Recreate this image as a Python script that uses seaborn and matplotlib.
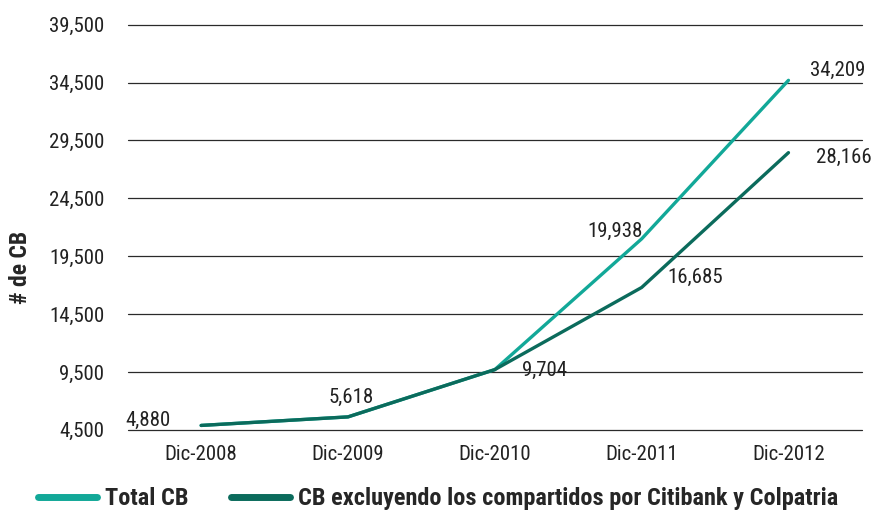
import matplotlib
matplotlib.use("Agg")
import matplotlib.pyplot as plt
import numpy as np
import pandas as pd
import seaborn as sns

# values
periods = ["Dic-2008", "Dic-2009", "Dic-2010", "Dic-2011", "Dic-2012"]
total_cb = [4880, 5618, 9704, 21000, 34700]
excl_cb = [4880, 5618, 9704, 16800, 28450]
series_names = ["Total CB", "CB excluyendo los compartidos por Citibank y Colpatria"]
yticks = [4500, 9500, 14500, 19500, 24500, 29500, 34500, 39500]

# printed labels (the chart prints these next to the points)
total_labels = ["4,880", "5,618", "9,704", "19,938", "34,209"]
excl_labels = ["", "", "", "16,685", "28,166"]

COLORS = ["#12a898", "#0b6b5c"]

df = pd.DataFrame({
    "periodo": periods * 2,
    "valor": total_cb + excl_cb,
    "serie": [series_names[0]] * len(periods) + [series_names[1]] * len(periods),
})

sns.set_theme(style="white")
FONT = ["Liberation Sans Narrow", "Roboto Condensed", "DejaVu Sans"]
plt.rcParams["font.family"] = FONT

fig, ax = plt.subplots(figsize=(8.75, 5.16), dpi=100)
fig.subplots_adjust(left=0.146, right=0.985, top=0.952, bottom=0.167)

sns.lineplot(data=df, x="periodo", y="valor", hue="serie", palette=COLORS,
             linewidth=2.4, ax=ax, sort=False, legend=True)

ax.set_xlim(-0.5, len(periods) - 0.5)
ax.set_ylim(yticks[0], yticks[-1])
ax.set_yticks(yticks)
ax.set_yticklabels([f"{v:,}" for v in yticks])
ax.yaxis.grid(True, color="#2a2a2a", linewidth=0.9)
for gl in ax.get_ygridlines():
    gl.set_clip_on(False)
ax.set_axisbelow(True)
for s in ax.spines.values():
    s.set_visible(False)
ax.tick_params(axis="both", length=0, labelsize=15, colors="#222222")
ax.tick_params(axis="y", pad=17)
ax.tick_params(axis="x", pad=11)
ax.set_xlabel("")
ax.set_ylabel("# de CB", fontsize=17, fontweight="bold")
ax.yaxis.set_label_coords(-0.130, 0.40)

# point labels, offsets in pixels
total_offsets = [(-53, 5), (3, 19), (50, -1), (-27, 7), (49, 10)]
excl_offsets = [(0, 0), (0, 0), (0, 0), (54, 10), (55, -5)]
for i, (lab, off) in enumerate(zip(total_labels, total_offsets)):
    if lab:
        ax.annotate(lab, (i, total_cb[i]), xytext=off, textcoords="offset pixels",
                    ha="center", va="center", fontsize=15, color="#222222")
for i, (lab, off) in enumerate(zip(excl_labels, excl_offsets)):
    if lab:
        ax.annotate(lab, (i, excl_cb[i]), xytext=off, textcoords="offset pixels",
                    ha="center", va="center", fontsize=15, color="#222222")

leg = ax.legend(loc="center left", bbox_to_anchor=(0.03, 0.033), bbox_transform=fig.transFigure,
                ncol=2, frameon=False, handlelength=2.4, columnspacing=1.75, handletextpad=0.35,
                borderpad=0, prop={"size": 17.5, "weight": "bold"})
for line in leg.get_lines():
    line.set_linewidth(5)

fig.savefig("out.png", dpi=100)
